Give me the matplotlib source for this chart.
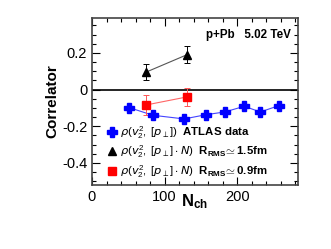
import matplotlib
matplotlib.use("Agg")
import matplotlib.pyplot as plt
from matplotlib.ticker import MultipleLocator
from matplotlib.lines import Line2D

plt.rcParams['font.family'] = ['Liberation Sans', 'DejaVu Sans']
plt.rcParams['mathtext.fontset'] = 'custom'
plt.rcParams['mathtext.rm'] = 'Liberation Sans'
plt.rcParams['mathtext.bf'] = 'Liberation Sans:bold'

# ATLAS data
atlas_n = [51, 84, 127, 157, 183, 210, 232, 258]
atlas_rho = [-0.098, -0.140, -0.160, -0.137, -0.122, -0.091, -0.122, -0.087]
atlas_err = [0.016, 0.015, 0.015, 0.015, 0.015, 0.015, 0.016, 0.015]

# model, R_RMS = 1.5 fm
tri_n = [74.5, 131]
tri_rho = [0.095, 0.19]
tri_err = [0.042, 0.045]

# model, R_RMS = 0.9 fm
sq_n = [74.5, 131]
sq_rho = [-0.084, -0.040]
sq_err = [0.055, 0.048]

labels = [r'$\rho(v_2^2,\,[p_\perp])$  $\bf{ATLAS\ data}$',
          r'$\rho(v_2^2,\,[p_\perp]\bullet N)$  $\bf{R_{RMS}\!\simeq 1.5fm}$',
          r'$\rho(v_2^2,\,[p_\perp]\bullet N)$  $\bf{R_{RMS}\!\simeq 0.9fm}$']

fig = plt.figure(figsize=(3.31, 2.49), dpi=100)
ax = fig.add_axes([92 / 331, 1 - 185 / 249, 206 / 331, 167 / 249])

ax.axhline(0, color='black', lw=1.2, zorder=1)

ax.plot(atlas_n, atlas_rho, color='#4444ff', lw=0.8, zorder=2)
ax.errorbar(atlas_n, atlas_rho, yerr=atlas_err, color='#0000ff', marker='P',
            ms=7, ls='none', elinewidth=0.8, capsize=0, zorder=3)
ax.plot(tri_n, tri_rho, color='#555555', lw=0.8, zorder=2)
ax.errorbar(tri_n, tri_rho, yerr=tri_err, color='black', marker='^', ms=6,
            ls='none', elinewidth=0.7, capsize=2, capthick=0.7, zorder=3)
ax.plot(sq_n, sq_rho, color='#ff6666', lw=0.8, zorder=2)
ax.errorbar(sq_n, sq_rho, yerr=sq_err, color='red', ecolor='#ff5555',
            marker='s', ms=6, ls='none', elinewidth=0.7, capsize=2,
            capthick=0.7, zorder=3)

ax.set_xlim(0, 284)
ax.set_ylim(-0.52, 0.39)
ax.xaxis.set_major_locator(MultipleLocator(100))
ax.xaxis.set_minor_locator(MultipleLocator(20))
ax.yaxis.set_major_locator(MultipleLocator(0.2))
ax.yaxis.set_minor_locator(MultipleLocator(0.05))
ax.tick_params(which='both', direction='in', top=True, right=True,
               labelsize=10.5, width=0.8)
ax.tick_params(which='major', length=6)
ax.tick_params(which='minor', length=3)
ax.set_yticks([-0.4, -0.2, 0, 0.2])
ax.set_yticklabels(['-0.4', '-0.2', '0', '0.2'])
for s in ax.spines.values():
    s.set_linewidth(1.2)
    s.set_color('#444444')

ax.set_xlabel(r'$\bf{N_{ch}}$', fontsize=12, labelpad=-8)
ax.set_ylabel('Correlator', fontsize=11, fontweight='bold', labelpad=2)

ax.text(0.965, 0.90, 'p+Pb   5.02 TeV', transform=ax.transAxes, ha='right',
        va='center', fontsize=8.4, fontweight='bold')

handles = [Line2D([], [], color='#0000ff', marker='P', ms=7, ls='none'),
           Line2D([], [], color='black', marker='^', ms=6, ls='none'),
           Line2D([], [], color='red', marker='s', ms=6, ls='none')]
leg = ax.legend(handles, labels, loc='lower left',
                bbox_to_anchor=(0.04, -0.01), frameon=False,
                fontsize=8.2, handlelength=0.8, handletextpad=0.35,
                labelspacing=0.25, borderaxespad=0.2)

fig.savefig('out.png', dpi=100)
